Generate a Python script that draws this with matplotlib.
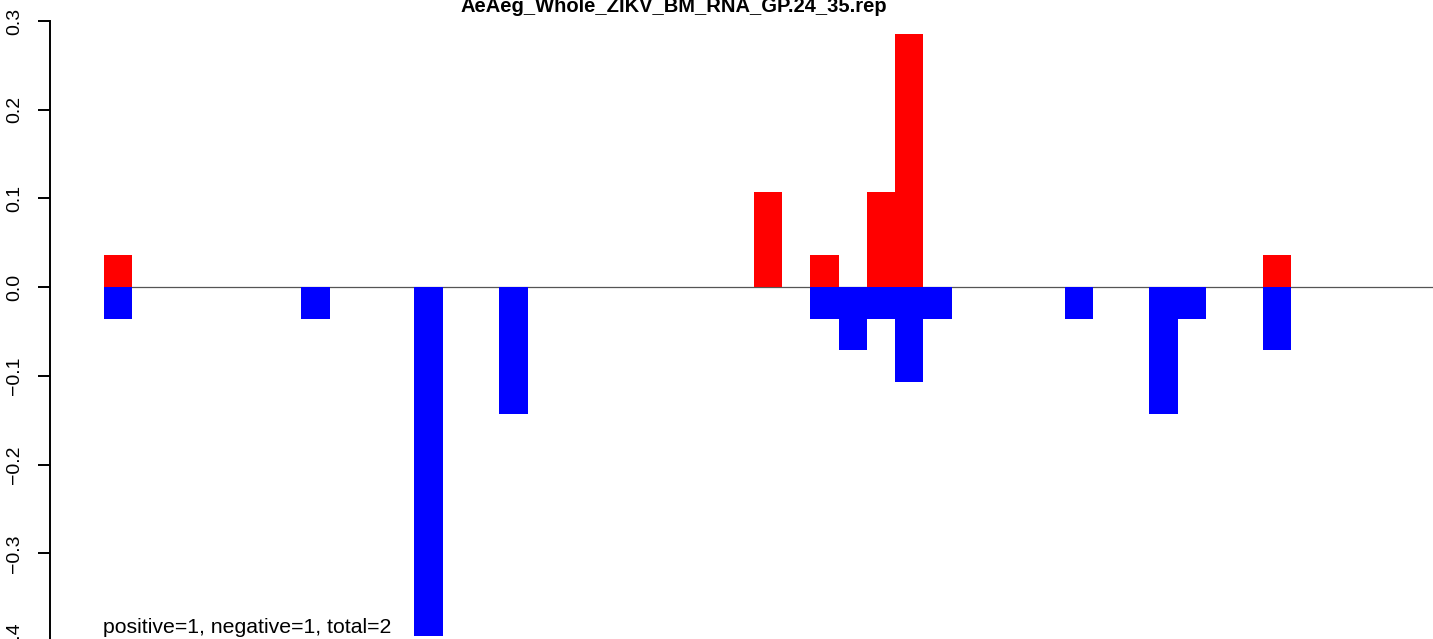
import matplotlib
matplotlib.use("Agg")
import matplotlib.pyplot as plt

plt.rcParams["font.family"] = ["Liberation Sans", "DejaVu Sans"]

TITLE = "AeAeg_Whole_ZIKV_BM_RNA_GP.24_35.rep"
NOTE = "positive=1, negative=1, total=2"

# bin index -> value
pos_bins = [0, 23, 25, 27, 28, 41]
pos_vals = [0.0357, 0.1071, 0.0357, 0.1071, 0.2857, 0.0357]
neg_bins = [0, 7, 11, 14, 25, 26, 27, 28, 29, 34, 37, 38, 41]
neg_vals = [-0.0357, -0.0357, -0.3929, -0.1429, -0.0357, -0.0714, -0.0357,
            -0.1071, -0.0357, -0.0357, -0.1429, -0.0357, -0.0714]
y_ticks = [-0.4, -0.3, -0.2, -0.1, 0.0, 0.1, 0.2, 0.3]

W, H = 1433, 639
fig = plt.figure(figsize=(W / 100, H / 100), dpi=100)

# axes box in pixels: x 50..1433, y (top) 21..642
left, right, top, bottom = 50, 1433, 21, 642
ax = fig.add_axes([left / W, (H - bottom) / H, (right - left) / W, (bottom - top) / H])
bin_w = 28.27
x0 = 103.5
ax.set_xlim((left - x0) / bin_w, (right - x0) / bin_w)
ax.set_ylim(-0.4, 0.3)

ax.hlines(0, 0, ax.get_xlim()[1], color="#555555", lw=0.9, zorder=1)
ax.bar(pos_bins, pos_vals, width=1.0, align="edge", color="#ff0000", lw=0, zorder=2)
ax.bar(neg_bins, neg_vals, width=1.0, align="edge", color="#0000ff", lw=0, zorder=2)

for s in ["top", "right", "bottom"]:
    ax.spines[s].set_visible(False)
ax.spines["left"].set_linewidth(1.4)
ax.spines["left"].set_bounds(-0.4, 0.3)
ax.set_xticks([])
ax.set_yticks(y_ticks)
ax.set_yticklabels([f"{v:.1f}".replace("-", "\u2212") for v in y_ticks])
ax.tick_params(axis="y", length=8.6, width=1.4, pad=11, labelsize=14,
               labelrotation=90)
for lab in ax.get_yticklabels():
    lab.set_va("center")

fig.text(674 / W, (H - 12) / H, TITLE, ha="center", va="baseline",
         fontsize=14.5, fontweight="bold")
fig.text(103 / W, (H - 633) / H, NOTE, ha="left", va="baseline", fontsize=15.3)

fig.savefig("out.png", dpi=100)
